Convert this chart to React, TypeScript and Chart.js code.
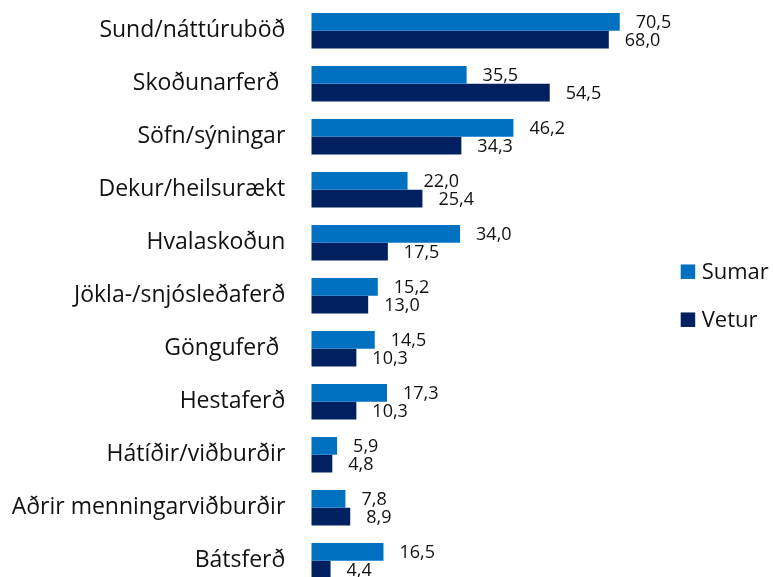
import React, { useEffect, useRef } from "react";
import { Chart, registerables } from "chart.js";

Chart.register(...registerables);

const categories = [
  "Sund/náttúruböð",
  "Skoðunarferð ",
  "Söfn/sýningar",
  "Dekur/heilsurækt",
  "Hvalaskoðun",
  "Jökla-/snjósleðaferð",
  "Gönguferð ",
  "Hestaferð",
  "Hátíðir/viðburðir",
  "Aðrir menningarviðburðir",
  "Bátsferð",
];
const sumar = [70.5, 35.5, 46.2, 22.0, 34.0, 15.2, 14.5, 17.3, 5.9, 7.8, 16.5];
const vetur = [68.0, 54.5, 34.3, 25.4, 17.5, 13.0, 10.3, 10.3, 4.8, 8.9, 4.4];
const seriesNames = ["Sumar", "Vetur"];
const seriesColors = ["#0070C0", "#002060"];

const FONT = "'Open Sans', 'Noto Sans', sans-serif";

const labelPlugin = {
  id: "barLabels",
  afterDatasetsDraw(chart: any) {
    const ctx = chart.ctx;
    ctx.save();
    ctx.font = `18px ${FONT}`;
    ctx.fillStyle = "#111";
    ctx.textAlign = "left";
    ctx.textBaseline = "middle";
    chart.data.datasets.forEach((ds: any, di: number) => {
      const meta = chart.getDatasetMeta(di);
      meta.data.forEach((bar: any, i: number) => {
        const v = ds.data[i] as number;
        const txt = v.toFixed(1).replace(".", ",");
        ctx.fillText(txt, bar.x + 16, bar.y + 1.5);
      });
    });
    ctx.restore();
  },
};

const legendPlugin = {
  id: "customLegend",
  afterDraw(chart: any) {
    const ctx = chart.ctx;
    const a = chart.chartArea;
    const cy = (a.top + a.bottom) / 2;
    const x0 = a.right + 19.4;
    ctx.save();
    ctx.font = `22px ${FONT}`;
    ctx.textBaseline = "middle";
    ctx.textAlign = "left";
    seriesNames.forEach((name, i) => {
      const y = cy + (i === 0 ? -24 : 24);
      ctx.fillStyle = seriesColors[i];
      ctx.fillRect(x0, y - 7.25, 14.5, 14.5);
      ctx.fillStyle = "#111";
      ctx.fillText(name, x0 + 21, y + 1);
    });
    ctx.restore();
  },
};

export default function App() {
  const ref = useRef<HTMLCanvasElement | null>(null);
  useEffect(() => {
    if (!ref.current) return;
    const chart = new Chart(ref.current, {
      type: "bar",
      data: {
        labels: categories,
        datasets: seriesNames.map((n, i) => ({
          label: n,
          data: i === 0 ? sumar : vetur,
          backgroundColor: seriesColors[i],
          borderWidth: 0,
          categoryPercentage: 0.672,
          barPercentage: 1,
        })),
      },
      options: {
        indexAxis: "y",
        animation: false,
        responsive: false,
        maintainAspectRatio: false,
        layout: { padding: { top: 4.2, bottom: 12.8, left: 0, right: 111.7 } },
        plugins: {
          legend: { display: false },
          tooltip: { enabled: false },
        },
        scales: {
          x: {
            display: false,
            min: 0,
            max: 80,
            grid: { display: false },
          },
          y: {
            grid: { display: false, drawTicks: false },
            border: { display: false },
            ticks: {
              color: "#111",
              padding: 26,
              font: { family: FONT, size: 23 },
            },
            afterFit(scale: any) {
              scale.width = 311.3;
              scale.paddingTop = 0;
              scale.paddingBottom = 0;
            },
          },
        },
      },
      plugins: [labelPlugin, legendPlugin],
    });
    return () => chart.destroy();
  }, []);
  return (
    <div style={{ position: "absolute", left: 0, top: 0, width: 773, height: 600 }}>
      <canvas ref={ref} width={773} height={600} style={{ display: "block" }} />
    </div>
  );
}
